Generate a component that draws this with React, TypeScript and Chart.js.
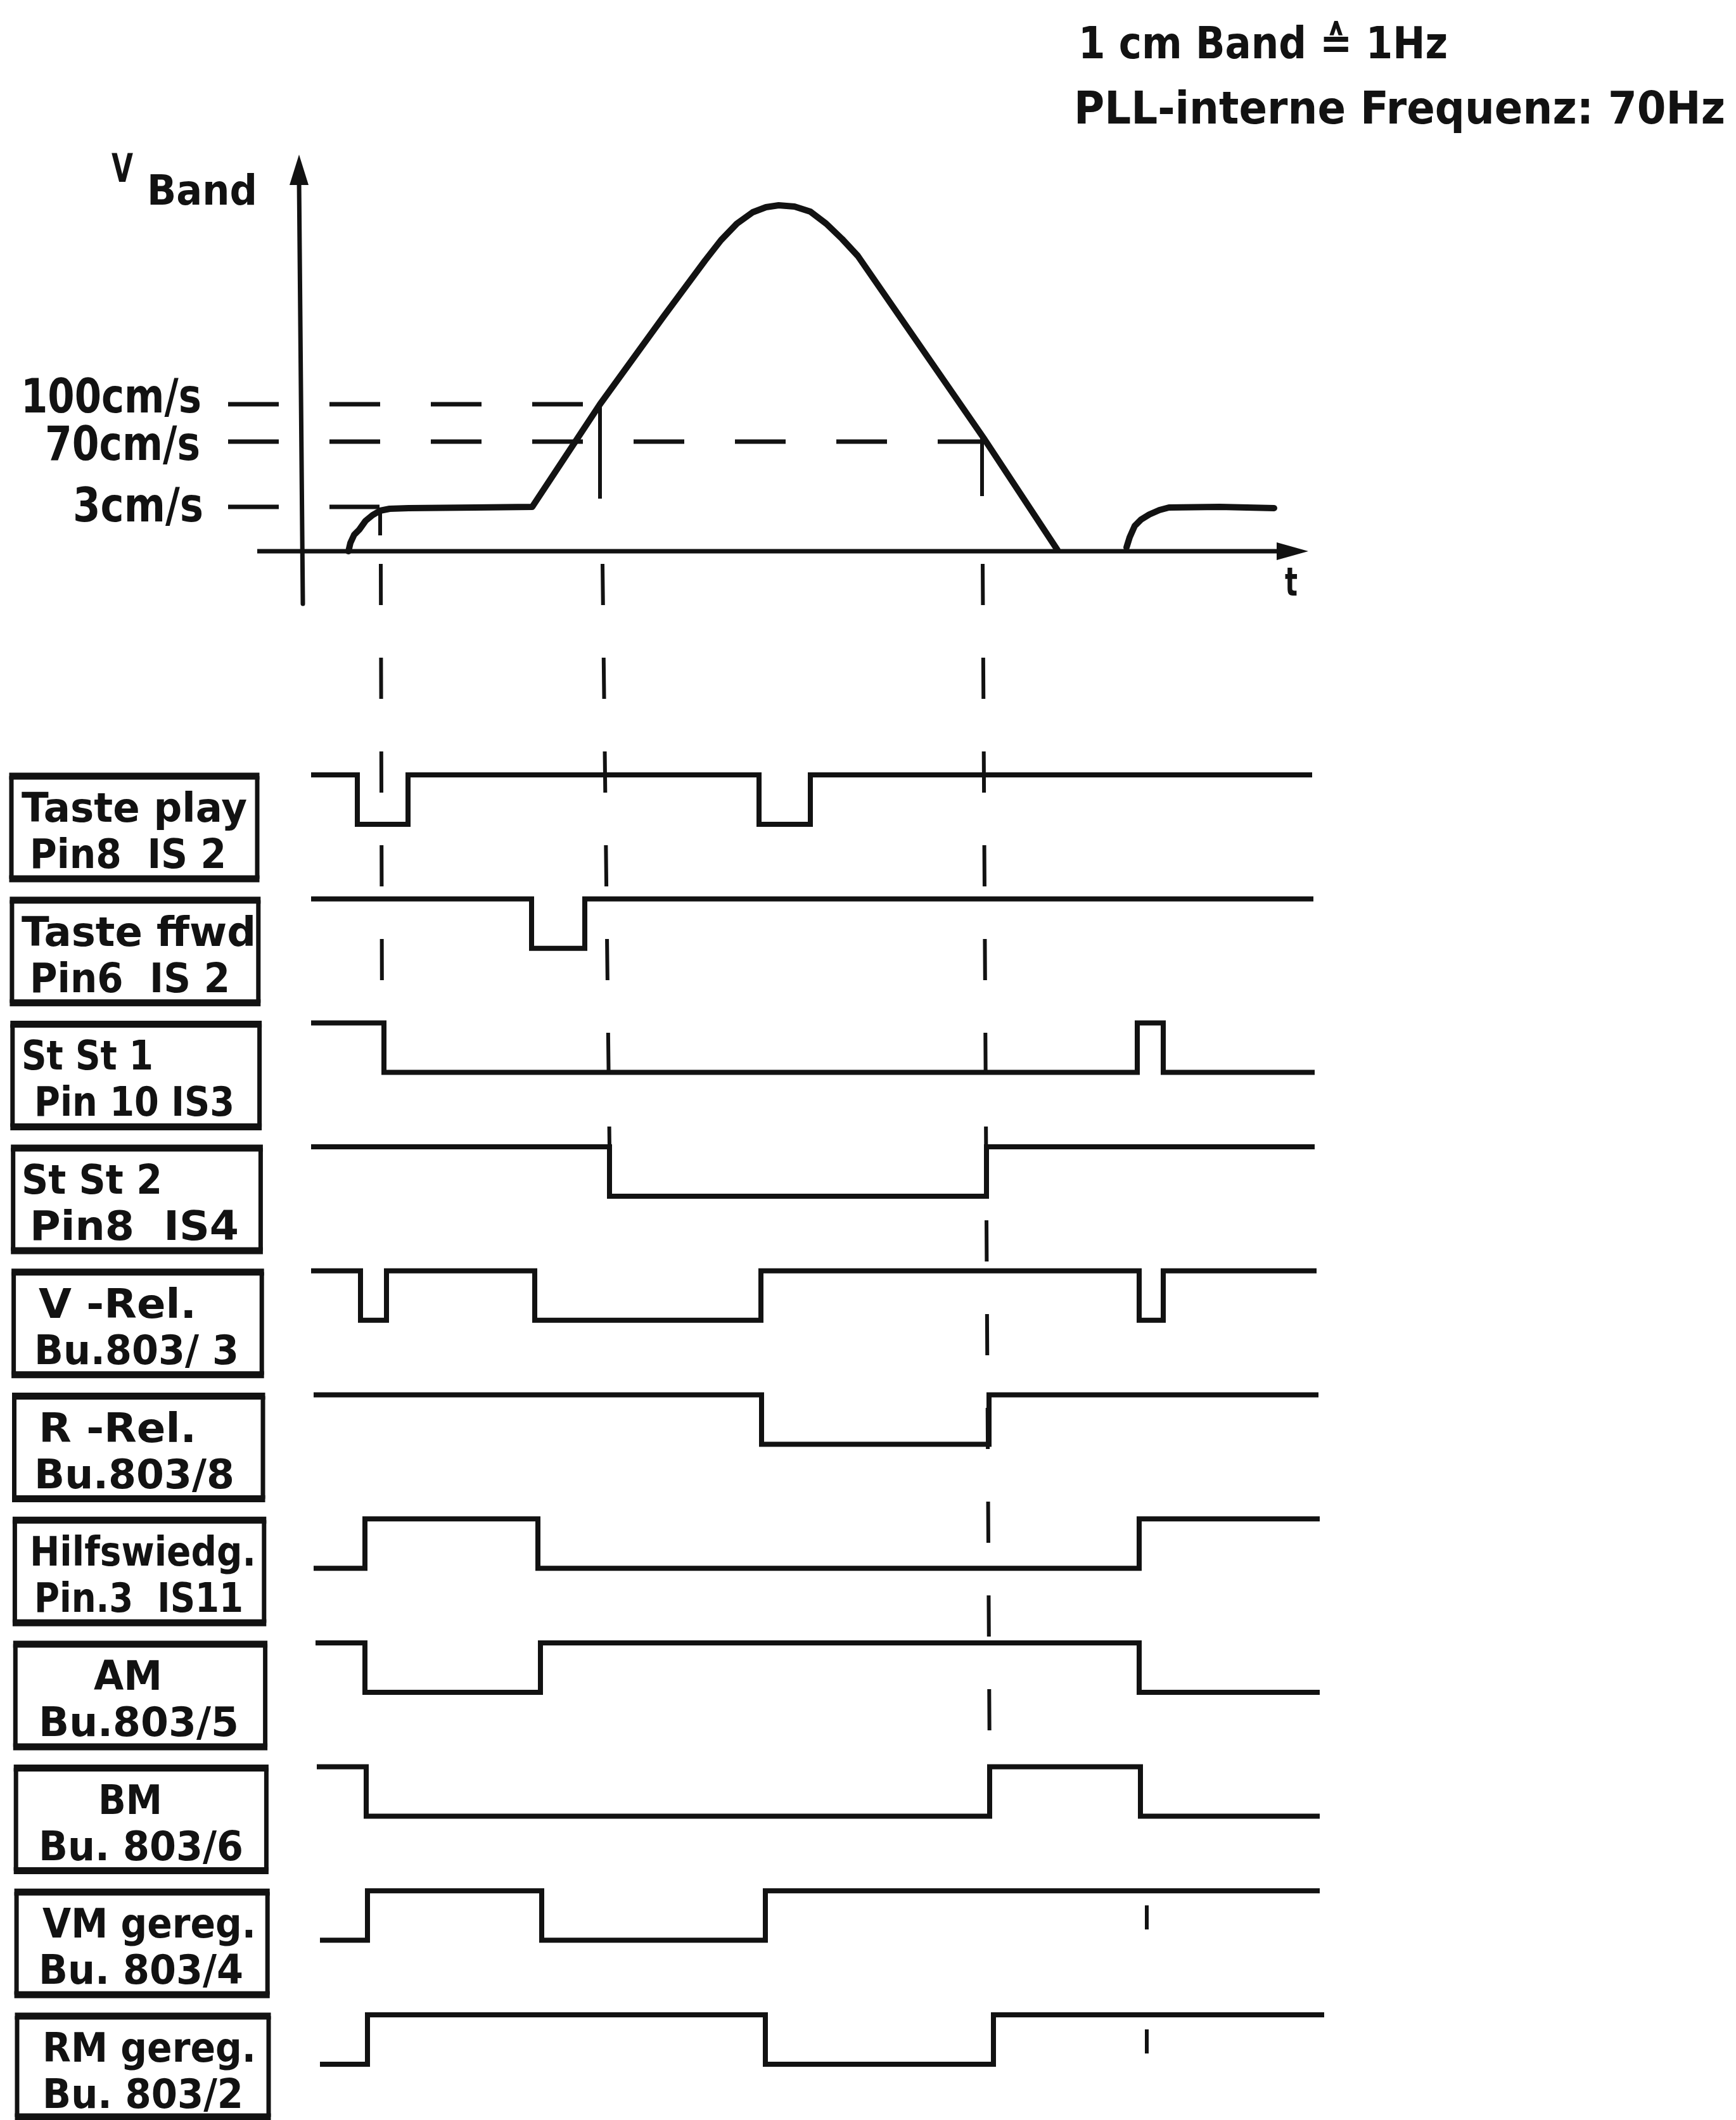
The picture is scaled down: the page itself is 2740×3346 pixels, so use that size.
import React, { useEffect, useRef } from 'react';
import { Chart, registerables } from 'chart.js';

Chart.register(...registerables);

// ---------------- data ----------------
// time axis: arbitrary time units (t = 0 at the velocity axis)
// velocity curve: schematic height units of the original drawing
const rampT = [7.5, 7.8, 8.4, 9.2, 10.2, 11.3, 12.5, 14.0, 17.0, 27.5, 36.5, 47.2, 57.2, 63.8, 66.3, 68.8, 71.3, 73.4, 75.4, 77.9, 80.4, 82.9, 85.4, 87.9, 107.8, 119.4];
const rampV = [0.0, 1.3, 2.6, 3.4, 4.8, 5.7, 6.4, 6.7, 6.8, 6.9, 7.0, 23.2, 37.0, 45.9, 49.1, 51.7, 53.5, 54.3, 54.6, 54.4, 53.6, 51.7, 49.3, 46.6, 17.8, 0.2];
const restartT = [130.3, 130.8, 131.6, 132.6, 133.9, 135.5, 137.0, 145.0, 153.6];
const restartV = [0.6, 2.2, 4.0, 5.0, 5.8, 6.5, 6.9, 7.0, 6.8];

const speedLabels = ['100cm/s', '70cm/s', '3cm/s'];
const speedLevels = [23.2, 17.3, 7.0];
const speedCrossT = [47.2, 107.8, 12.4];

const timeAxisEnd = 159.0;
const timeAxisStart = -6.9;
const velAxisBottom = -8.3;
const velAxisTop = 62.6;

// signal rows
const signalLine1 = ['Taste play', 'Taste ffwd', 'St St 1', 'St St 2', 'V -Rel.', 'R -Rel.', 'Hilfswiedg.', 'AM', 'BM', 'VM gereg.', 'RM gereg.'];
const signalLine2 = ['Pin8  IS 2', 'Pin6  IS 2', 'Pin 10 IS3', 'Pin8  IS4', 'Bu.803/ 3', 'Bu.803/8', 'Pin.3  IS11', 'Bu.803/5', 'Bu. 803/6', 'Bu. 803/4', 'Bu. 803/2'];
const signalInitial = [1, 1, 1, 1, 1, 1, 0, 1, 1, 0, 0];
const signalStart = [1.6, 1.6, 1.6, 1.6, 1.6, 2.0, 2.0, 2.3, 2.5, 3.0, 3.0];
const signalEnd = [159.6, 159.8, 160.0, 160.0, 160.3, 160.6, 160.8, 160.8, 160.8, 160.8, 161.5];
const signalEdges: number[][] = [
  [8.9, 16.9, 72.3, 80.4],
  [36.4, 44.8],
  [13.1, 132.0, 136.1],
  [48.7, 108.2],
  [9.4, 13.5, 36.9, 72.6, 132.3, 136.1],
  [72.7, 108.6],
  [10.1, 37.4, 132.3],
  [10.1, 37.8, 132.3],
  [10.3, 108.7, 132.5],
  [10.5, 38.0, 73.3],
  [10.5, 73.3, 109.3],
];

// vertical guide lines (event markers)
const guideTopT = [12.5, 47.2, 107.5];
const guideTopV = [6.6, 23.2, 17.8];
const guideSolidEndV = [2.5, 8.3, 8.7];
const guideDashStartT = [12.6, 47.6, 107.6];
const guideBottomT = [12.8, 48.7, 108.7];
const guideEndRow = [2, 3, 8];
const tickMarkT = 133.5;
const tickMarkRows = [9, 10];

// ---------------- layout ----------------
const W = 2740;
const H = 3346;
const INK = '#121212';
const FONT = '"DejaVu Sans", "Liberation Sans", sans-serif';
const X_MIN = -47.5;
const X_MAX = 226.5;
const Y_MIN = -247.6;
const Y_MAX = 87.0;
const ROW0_HIGH = -35.3;
const ROW_PITCH = 19.57;
const ROW_AMP = 7.8;
const rowHigh = (i: number) => ROW0_HIGH - i * ROW_PITCH;

const line1Span = [[34, 390], [34, 404], [34, 242], [34, 256], [61, 310], [61, 310], [47, 404], [148, 256], [155, 256], [67, 404], [67, 404]];
const line2Span = [[47, 357], [47, 363], [54, 370], [47, 377], [54, 377], [54, 370], [54, 384], [61, 377], [61, 384], [61, 384], [67, 384]];
const speedLabelSpan = [[33, 318], [71, 316], [115, 321]];
const speedLabelDy = [13, 29, 23];

function pts(ts: number[], vs: number[]) {
  return ts.map((t, k) => ({ x: t, y: vs[k] }));
}

function stepPoints(i: number) {
  const out: { x: number; y: number }[] = [];
  let lvl = signalInitial[i];
  const y = (l: number) => rowHigh(i) - (1 - l) * ROW_AMP;
  out.push({ x: signalStart[i], y: y(lvl) });
  for (const e of signalEdges[i]) {
    out.push({ x: e, y: y(lvl) });
    lvl = 1 - lvl;
    out.push({ x: e, y: y(lvl) });
  }
  out.push({ x: signalEnd[i], y: y(lvl) });
  return out;
}

function lineDs(data: any[], width: number, extra: any = {}) {
  return {
    type: 'line',
    data,
    borderColor: INK,
    backgroundColor: INK,
    borderWidth: width,
    pointRadius: 0,
    pointHoverRadius: 0,
    tension: 0,
    fill: false,
    spanGaps: false,
    borderJoinStyle: 'miter',
    borderCapStyle: 'butt',
    ...extra,
  };
}

function buildDatasets() {
  const ds: any[] = [];
  // axes
  ds.push(lineDs([{ x: timeAxisStart, y: 0 }, { x: timeAxisEnd - 4, y: 0 }], 7));
  ds.push(lineDs([{ x: 0.3, y: velAxisBottom }, { x: -0.3, y: velAxisTop - 4 }], 7, { borderCapStyle: 'round' }));
  // reference speed lines (dashed)
  speedLevels.forEach((lv, k) => {
    ds.push(lineDs([{ x: -11.5, y: lv }, { x: speedCrossT[k], y: lv }], 7, { borderDash: [80, 80] }));
  });
  // velocity curve
  ds.push(lineDs(pts(rampT, rampV), 10, { borderJoinStyle: 'round', borderCapStyle: 'round' }));
  ds.push(lineDs(pts(restartT, restartV), 10, { borderJoinStyle: 'round', borderCapStyle: 'round' }));
  // guide lines
  guideTopT.forEach((t, k) => {
    ds.push(lineDs([{ x: t, y: guideTopV[k] }, { x: t, y: guideSolidEndV[k] }], 6));
    ds.push(lineDs([{ x: guideDashStartT[k], y: -2.0 }, { x: guideBottomT[k], y: rowHigh(guideEndRow[k]) }], 6, { borderDash: [65, 83] }));
  });
  const tm: any[] = [];
  tickMarkRows.forEach((r) => {
    tm.push({ x: tickMarkT, y: rowHigh(r) - 2.3 }, { x: tickMarkT, y: rowHigh(r) - 6.1 }, { x: tickMarkT, y: NaN });
  });
  ds.push(lineDs(tm, 6));
  // signals
  for (let i = 0; i < signalLine1.length; i++) ds.push(lineDs(stepPoints(i), 8));
  return ds;
}

function fitText(ctx: CanvasRenderingContext2D, text: string, x: number, y: number, w: number, font: string) {
  ctx.font = font;
  const m = ctx.measureText(text).width;
  ctx.save();
  ctx.translate(x, y);
  ctx.scale(w / m, 1);
  ctx.textAlign = 'left';
  ctx.textBaseline = 'alphabetic';
  ctx.fillText(text, 0, 0);
  ctx.restore();
}

const decor = {
  id: 'decor',
  beforeDraw(chart: any) {
    const ctx = chart.ctx as CanvasRenderingContext2D;
    ctx.save();
    ctx.fillStyle = '#ffffff';
    ctx.fillRect(0, 0, chart.width, chart.height);
    ctx.restore();
  },
  afterDatasetsDraw(chart: any) {
    const ctx = chart.ctx as CanvasRenderingContext2D;
    const xs = chart.scales.x;
    const ys = chart.scales.y;
    ctx.save();
    ctx.fillStyle = INK;
    ctx.strokeStyle = INK;

    // arrowheads
    const tx = xs.getPixelForValue(timeAxisEnd);
    const ty = ys.getPixelForValue(0);
    ctx.beginPath();
    ctx.moveTo(tx, ty);
    ctx.lineTo(tx - 50, ty - 14);
    ctx.lineTo(tx - 50, ty + 14);
    ctx.closePath();
    ctx.fill();
    const ax = xs.getPixelForValue(-0.3);
    const ay = ys.getPixelForValue(velAxisTop);
    ctx.beginPath();
    ctx.moveTo(ax, ay);
    ctx.lineTo(ax - 15, ay + 48);
    ctx.lineTo(ax + 15, ay + 48);
    ctx.closePath();
    ctx.fill();

    // header texts
    fitText(ctx, '1 cm Band \u2259 1Hz', 1702, 92, 583, `bold 70px ${FONT}`);
    fitText(ctx, 'PLL-interne Frequenz: 70Hz', 1695, 195, 1028, `bold 72px ${FONT}`);

    // axis titles
    fitText(ctx, 'V', 176, 287, 34, `bold 62px ${FONT}`);
    fitText(ctx, 'Band', 232, 323, 174, `bold 66px ${FONT}`);
    fitText(ctx, 't', 2028, 940, 20, `bold 62px ${FONT}`);

    // speed tick labels
    speedLabels.forEach((s, k) => {
      const py = ys.getPixelForValue(speedLevels[k]) + speedLabelDy[k];
      fitText(ctx, s, speedLabelSpan[k][0], py, speedLabelSpan[k][1] - speedLabelSpan[k][0], `bold 74px ${FONT}`);
    });

    // label boxes
    for (let i = 0; i < signalLine1.length; i++) {
      const top = ys.getPixelForValue(rowHigh(i)) + 2;
      const left = 18 + i * 0.9;
      const right = 406 + i * 1.8;
      const bottom = Math.min(top + 162, H - 5);
      ctx.lineWidth = 7;
      ctx.beginPath();
      ctx.moveTo(left, top);
      ctx.lineTo(left, bottom);
      ctx.moveTo(right, top);
      ctx.lineTo(right, bottom);
      ctx.stroke();
      ctx.lineWidth = 11;
      ctx.beginPath();
      ctx.moveTo(left - 3.5, top);
      ctx.lineTo(right + 3.5, top);
      ctx.moveTo(left - 3.5, bottom);
      ctx.lineTo(right + 3.5, bottom);
      ctx.stroke();
      const a = line1Span[i];
      const b = line2Span[i];
      fitText(ctx, signalLine1[i], a[0], top + 72, a[1] - a[0], `bold 64px ${FONT}`);
      fitText(ctx, signalLine2[i], b[0], top + 145, b[1] - b[0], `bold 64px ${FONT}`);
    }
    ctx.restore();
  },
};

export default function App() {
  const ref = useRef<HTMLCanvasElement>(null);
  useEffect(() => {
    document.body.style.margin = '0';
    const canvas = ref.current!;
    const chart = new Chart(canvas, {
      type: 'line',
      data: { datasets: buildDatasets() },
      options: {
        responsive: false,
        animation: false,
        devicePixelRatio: 1,
        events: [],
        layout: { padding: 0 },
        plugins: { legend: { display: false }, tooltip: { enabled: false } },
        scales: {
          x: { type: 'linear', min: X_MIN, max: X_MAX, display: false },
          y: { type: 'linear', min: Y_MIN, max: Y_MAX, display: false },
        },
      },
      plugins: [decor],
    } as any);
    return () => chart.destroy();
  }, []);
  return <canvas ref={ref} width={W} height={H} style={{ display: 'block', width: W, height: H }} />;
}
